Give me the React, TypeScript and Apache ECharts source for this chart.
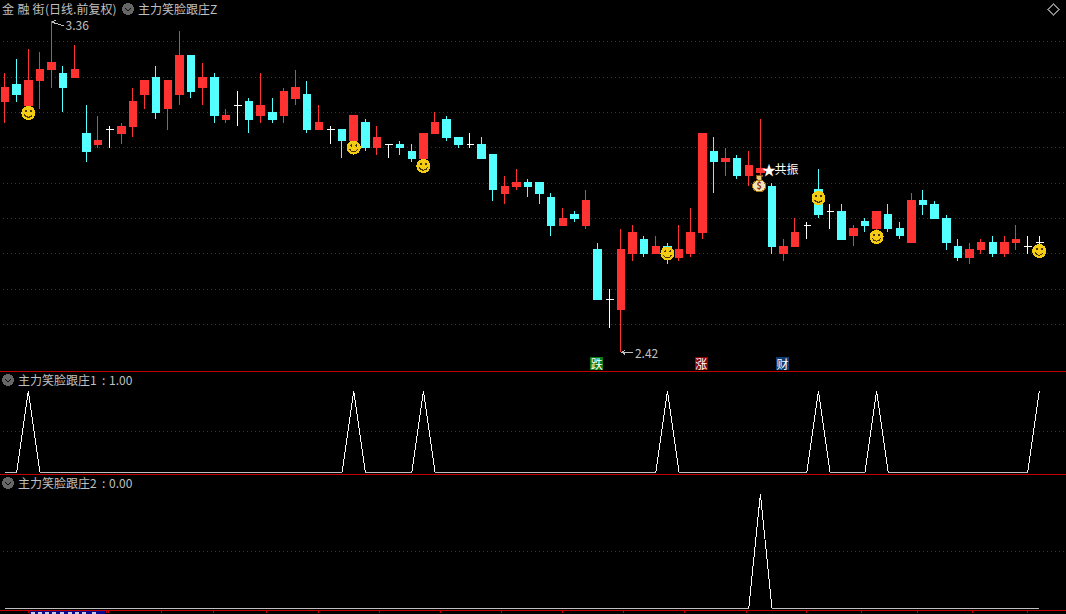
import React, { useEffect, useRef } from "react";
import * as echarts from "echarts";

const opens = [3.13,3.18,3.12,3.19,3.22,3.21,3.20,3.04,3.01,3.05,3.04,3.06,3.15,3.20,3.11,3.15,3.26,3.17,3.20,3.08,3.12,3.13,3.09,3.10,3.09,3.14,3.15,3.05,3.05,3.05,3.02,3.07,3.00,3.01,3.01,2.99,2.97,3.04,3.08,3.03,3.01,3.01,2.98,2.87,2.89,2.90,2.90,2.86,2.78,2.81,2.78,2.71,2.57,2.54,2.70,2.74,2.70,2.72,2.69,2.70,2.76,2.99,2.96,2.97,2.92,2.93,2.89,2.70,2.72,2.78,2.88,2.82,2.82,2.75,2.79,2.77,2.81,2.77,2.73,2.85,2.84,2.80,2.72,2.69,2.71,2.73,2.70,2.73,2.72,2.73];
const closes = [3.17,3.15,3.19,3.22,3.24,3.17,3.22,2.99,3.02,3.05,3.06,3.13,3.19,3.10,3.19,3.26,3.16,3.20,3.09,3.09,3.12,3.08,3.12,3.08,3.16,3.17,3.05,3.07,3.05,3.02,3.09,3.00,3.03,3.01,3.00,2.97,3.04,3.07,3.03,3.01,3.01,2.97,2.88,2.89,2.90,2.89,2.87,2.78,2.80,2.80,2.85,2.57,2.57,2.71,2.76,2.70,2.72,2.70,2.71,2.76,3.04,2.96,2.97,2.92,2.95,2.94,2.72,2.72,2.76,2.78,2.81,2.82,2.74,2.77,2.78,2.82,2.77,2.75,2.85,2.84,2.80,2.73,2.69,2.71,2.73,2.70,2.73,2.74,2.72,2.73];
const lows = [3.07,3.13,3.12,3.11,3.17,3.10,3.20,2.96,3.00,3.00,3.01,3.03,3.11,3.08,3.05,3.12,3.14,3.12,3.07,3.07,3.06,3.04,3.07,3.07,3.07,3.12,3.04,3.05,3.01,2.97,3.01,2.99,2.98,2.97,2.98,2.96,2.96,3.04,3.02,3.00,3.00,2.97,2.85,2.84,2.88,2.86,2.84,2.75,2.78,2.79,2.77,2.57,2.49,2.42,2.68,2.69,2.70,2.67,2.68,2.69,2.74,2.87,2.92,2.91,2.89,2.91,2.70,2.68,2.72,2.74,2.80,2.77,2.74,2.72,2.76,2.76,2.76,2.74,2.73,2.81,2.80,2.71,2.68,2.67,2.70,2.69,2.69,2.71,2.70,2.71];
const highs = [3.21,3.25,3.28,3.27,3.36,3.23,3.29,3.12,3.09,3.06,3.07,3.17,3.19,3.23,3.19,3.33,3.26,3.24,3.21,3.11,3.16,3.14,3.21,3.14,3.17,3.22,3.19,3.12,3.06,3.05,3.09,3.08,3.06,3.01,3.02,3.01,3.04,3.10,3.09,3.03,3.04,3.03,2.98,2.92,2.94,2.91,2.90,2.87,2.83,2.82,2.88,2.73,2.60,2.77,2.78,2.75,2.75,2.73,2.78,2.83,3.04,3.03,3.00,2.98,2.99,3.08,2.90,2.74,2.80,2.79,2.94,2.84,2.84,2.78,2.80,2.82,2.84,2.79,2.87,2.88,2.85,2.81,2.74,2.73,2.74,2.75,2.75,2.78,2.75,2.75];

const signalOneIdx = [2, 30, 36, 57, 70, 75, 89];
const signalTwoIdx = [65];
const smileyPrices = [3.098, 3.0, 2.948, 2.70, 2.857, 2.747, 2.707];
const bagPoint = [65, 2.897];
const resonance = [65, 2.94];
const resonanceText = "共振";
const tagIdx = [51, 60, 67];
const tagPrice = 2.39;
const tagTexts = ["跌", "涨", "财"];
const tagColors = ["#0b7a14", "#8c0000", "#0c3c72"];
const extremes = [
  [4, 3.36, "3.36"],
  [53, 2.42, "2.42"],
];
const timeTicks = [28.2,106.5,108.5,161.6,213.6,266.7,318.4,379.6,440.5,501.7,562.6,623.5,684.4,745.9,806.5,861.6,917.7,972.5,1027.6];

const RED = "#ff3232";
const CYAN = "#54ffff";
const AXIS_RED = "#c00000";
const GRID_RED = "#8a1414";
const TEXT = "#c0c0c0";
const FONT = '"Noto Sans CJK SC", "Noto Sans", sans-serif';

// two spare bands on the right: the window cuts the axis after candle 89 plus a little
const slots = Array.from({ length: 92 }, (_, i) => String(i));
const ohlc = opens.map((o, i) => [o, closes[i], lows[i], highs[i]]);
const pulse = (idx: number[]) => opens.map((_, i) => (idx.includes(i) ? 1 : 0));

const dotted = { show: true, showMinLine: false, showMaxLine: false, lineStyle: { color: GRID_RED, type: [1, 3], width: 1 } };

function headerIcon(x: number, y: number) {
  return {
    type: "group",
    silent: true,
    children: [
      { type: "circle", shape: { cx: x, cy: y, r: 6 }, style: { fill: "#666666" } },
      { type: "polyline", shape: { points: [[x - 3, y - 1], [x, y + 2], [x + 3, y - 1]] }, style: { stroke: "#0c0c0c", lineWidth: 1.4, fill: "none" } },
    ],
  };
}

function label(x: number, y: number, text: string) {
  return { type: "text", x, y: y - 0.7, silent: true, style: { text, fill: TEXT, font: `12px ${FONT}`, textVerticalAlign: "middle" } };
}

function renderSmiley(params: any, api: any) {
  const [x, y] = api.coord([api.value(0), api.value(1)]);
  return {
    type: "group",
    children: [
      { type: "circle", shape: { cx: x, cy: y, r: 7 }, style: { fill: "#f4cc14" } },
      { type: "circle", shape: { cx: x - 2.5, cy: y - 2, r: 1 }, style: { fill: "#4a3800" } },
      { type: "circle", shape: { cx: x + 2.5, cy: y - 2, r: 1 }, style: { fill: "#4a3800" } },
      { type: "arc", shape: { cx: x, cy: y, r: 4.2, startAngle: 0.35, endAngle: Math.PI - 0.35 }, style: { stroke: "#4a3800", lineWidth: 1, fill: "none" } },
    ],
  };
}

function renderBag(params: any, api: any) {
  const [cx, y] = api.coord([api.value(0), api.value(1)]);
  const x = cx - 1.2;
  return {
    type: "group",
    children: [
      { type: "polygon", shape: { points: [[x - 3, y - 8], [x + 3, y - 8], [x + 1.5, y - 3], [x - 1.5, y - 3]] }, style: { fill: "#e9c777", stroke: "#8a5a12", lineWidth: 1 } },
      { type: "ellipse", shape: { cx: x, cy: y + 2, rx: 6.5, ry: 6 }, style: { fill: "#f5e6b8", stroke: "#a87418", lineWidth: 1 } },
      { type: "text", x, y: y + 2, style: { text: "$", fill: "#8c2a10", font: `bold 9px ${FONT}`, textAlign: "center", textVerticalAlign: "middle" } },
    ],
  };
}

function renderResonance(params: any, api: any) {
  const [x, y] = api.coord([api.value(0), api.value(1)]);
  return {
    type: "group",
    children: [
      { type: "text", x: x + 1.5, y, style: { text: "★", fill: "#ffffff", font: `bold 14px ${FONT}`, textVerticalAlign: "middle" } },
      { type: "text", x: x + 14, y: y - 0.5, style: { text: resonanceText, fill: "#ffffff", font: `12px ${FONT}`, textVerticalAlign: "middle" } },
    ],
  };
}

function renderTag(params: any, api: any) {
  const [cx, y] = api.coord([api.value(0), api.value(1)]);
  const x = cx - 1;
  const i = params.dataIndex;
  return {
    type: "group",
    children: [
      { type: "rect", shape: { x: x - 6.5, y: y - 6, width: 13, height: 13 }, style: { fill: tagColors[i] } },
      { type: "text", x, y: y + 0.5, style: { text: tagTexts[i], fill: "#ffffff", font: `12px ${FONT}`, textAlign: "center", textVerticalAlign: "middle" } },
    ],
  };
}

function renderExtreme(params: any, api: any) {
  const [x, y] = api.coord([api.value(0), api.value(1)]);
  const isHigh = params.dataIndex === 0;
  const drop = isHigh ? 4 : 0;
  const top = isHigh ? y + 1.5 : y;
  return {
    type: "group",
    children: [
      { type: "polyline", shape: { points: [[x + 4, top - 2], [x + 1, top], [x + 4, top + 2]] }, style: { stroke: TEXT, lineWidth: 1, fill: "none" } },
      { type: "line", shape: { x1: x + 1, y1: top, x2: x + 12, y2: top + drop }, style: { stroke: TEXT, lineWidth: 1 } },
      { type: "text", x: x + 14, y: top + drop + (isHigh ? -1.5 : 0), style: { text: extremes[params.dataIndex][2] as string, fill: TEXT, font: `12px ${FONT}`, textVerticalAlign: "middle" } },
    ],
  };
}

const customBase = { type: "custom", xAxisIndex: 0, yAxisIndex: 0, clip: false, silent: true, z: 5, encode: { x: 0, y: 1 } };

const dateStubs = [31, 38, 45, 52, 60, 68, 75, 82, 92];

const free = { outerBoundsMode: "none", containLabel: false };

const option: any = {
  animation: false,
  backgroundColor: "#000000",
  grid: [
    { ...free, left: -0.7, width: 1069, top: 6.4, height: 353 },
    { ...free, left: -0.7, width: 1069, top: 391, height: 81.3 },
    { ...free, left: -0.7, width: 1069, top: 494, height: 114.3 },
    { ...free, left: 0, width: 1066, top: 609, height: 1 },
  ],
  xAxis: [
    { type: "category", gridIndex: 0, data: slots, position: "bottom", offset: 12, axisLine: { show: true, onZero: false, lineStyle: { color: AXIS_RED } }, axisTick: { show: false }, axisLabel: { show: false }, splitLine: { show: false } },
    { type: "category", gridIndex: 1, data: slots, position: "top", offset: 19.5, axisLine: { show: false }, axisTick: { show: false }, axisLabel: { show: false }, splitLine: { show: false } },
    { type: "category", gridIndex: 2, data: slots, position: "top", offset: 19.5, axisLine: { show: true, onZero: false, lineStyle: { color: AXIS_RED } }, axisTick: { show: false }, axisLabel: { show: false }, splitLine: { show: false } },
    {
      type: "value", gridIndex: 3, min: 0, max: 1066, position: "bottom",
      axisLine: { show: true, onZero: false, lineStyle: { color: AXIS_RED, width: 1 } },
      axisTick: { show: true, length: 3, customValues: timeTicks, lineStyle: { color: AXIS_RED } },
      axisLabel: { show: false }, splitLine: { show: false },
    },
  ],
  yAxis: [
    { type: "value", gridIndex: 0, min: 2.4, max: 3.4, interval: 0.1, axisLine: { show: false }, axisTick: { show: false }, axisLabel: { show: false }, splitLine: dotted },
    { type: "value", gridIndex: 1, min: 0, max: 1, interval: 0.5, axisLine: { show: false }, axisTick: { show: false }, axisLabel: { show: false }, splitLine: dotted },
    { type: "value", gridIndex: 2, min: 0, max: 1, interval: 0.5, axisLine: { show: false }, axisTick: { show: false }, axisLabel: { show: false }, splitLine: dotted },
    { type: "value", gridIndex: 3, show: false },
  ],
  series: [
    {
      type: "candlestick",
      name: "金融街",
      xAxisIndex: 0,
      yAxisIndex: 0,
      barWidth: 8,
      data: ohlc,
      silent: true,
      itemStyle: { color: RED, color0: CYAN, borderColor: RED, borderColor0: CYAN, borderColorDoji: "#ffffff", borderWidth: 1 },
    },
    { ...customBase, name: "smiley", renderItem: renderSmiley, data: signalOneIdx.map((idx, i) => [idx, smileyPrices[i]]) },
    { ...customBase, name: "bag", renderItem: renderBag, data: [bagPoint] },
    { ...customBase, name: "resonance", renderItem: renderResonance, data: [resonance] },
    { ...customBase, name: "tags", renderItem: renderTag, data: tagIdx.map((idx) => [idx, tagPrice]) },
    { ...customBase, name: "extremes", renderItem: renderExtreme, data: extremes.map((e) => [e[0], e[1]]) },
    { type: "line", name: "主力笑脸跟庄1", xAxisIndex: 1, yAxisIndex: 1, data: pulse(signalOneIdx), showSymbol: false, silent: true, lineStyle: { color: "#ffffff", width: 1 } },
    { type: "line", name: "主力笑脸跟庄2", xAxisIndex: 2, yAxisIndex: 2, data: pulse(signalTwoIdx), showSymbol: false, silent: true, lineStyle: { color: "#ffffff", width: 1 } },
  ],
  graphic: [
    label(2, 9, "金"),
    label(17.5, 9, "融"),
    label(32.5, 9, "街"),
    label(45, 9, "(日线.前复权)"),
    headerIcon(128, 9),
    label(138, 9, "主力笑脸跟庄Z"),
    { type: "polygon", silent: true, shape: { points: [[1053.5, 4], [1059, 9.5], [1053.5, 15], [1048, 9.5]] }, style: { fill: "none", stroke: "#8a8a8a", lineWidth: 1 } },
    headerIcon(8, 380),
    label(18, 380, "主力笑脸跟庄1"),
    label(102, 380, ":"),
    label(109, 380, "1.00"),
    headerIcon(8, 483),
    label(18, 483, "主力笑脸跟庄2"),
    label(102, 483, ":"),
    label(109, 483, "0.00"),
    { type: "rect", silent: true, shape: { x: 29, y: 611, width: 76, height: 3 }, style: { fill: "#0a0a8c" } },
    ...dateStubs.map((x) => ({ type: "rect", silent: true, shape: { x, y: 612, width: 4, height: 2 }, style: { fill: "#c8c8e8" } })),
  ],
};

export default function App() {
  const ref = useRef<HTMLDivElement>(null);
  useEffect(() => {
    document.body.style.margin = "0";
    document.body.style.background = "#000";
    const chart = echarts.init(ref.current!, undefined, { renderer: "svg", width: 1066, height: 614 });
    chart.setOption(option);
    return () => chart.dispose();
  }, []);
  return (
    <>
      <style>{`#kline svg path, #kline svg line, #kline svg polyline { shape-rendering: crispEdges; }`}</style>
      <div id="kline" ref={ref} style={{ width: 1066, height: 614, overflow: "hidden" }} />
    </>
  );
}
